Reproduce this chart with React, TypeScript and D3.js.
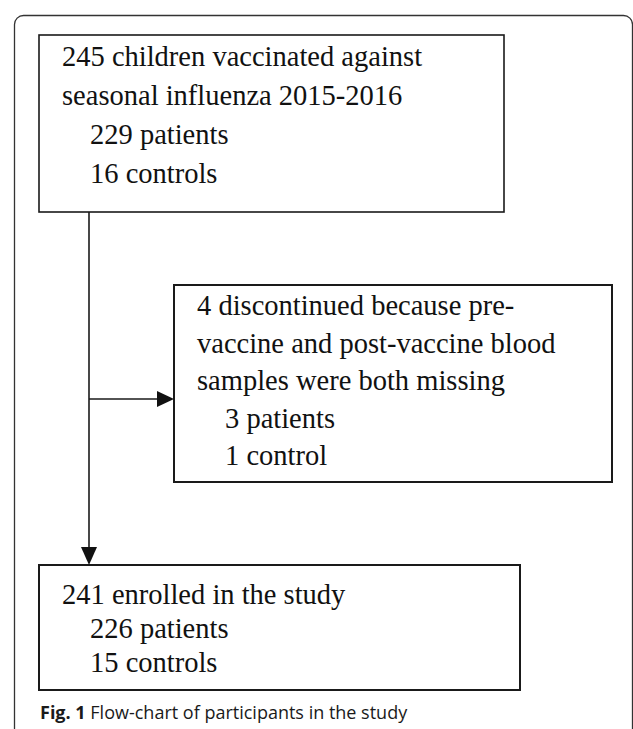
import React from 'react';
import * as d3 from 'd3';

const svgWidth = 633;
const svgHeight = 729;

// box contents: [text, indent level]
const topLines = [
  ['245 children vaccinated against', 0],
  ['seasonal influenza 2015-2016', 0],
  ['229 patients', 1],
  ['16 controls', 1],
];
const sideLines = [
  ['4 discontinued because pre-', 0],
  ['vaccine and post-vaccine blood', 0],
  ['samples were both missing', 0],
  ['3 patients', 1],
  ['1 control', 1],
];
const bottomLines = [
  ['241 enrolled in the study', 0],
  ['226 patients', 1],
  ['15 controls', 1],
];
const captionBold = 'Fig. 1';
const captionText = ' Flow-chart of participants in the study';

const boxes = [
  { id: 'top', x0: 39, y0: 35, x1: 504, y1: 212, lines: topLines, sw: 1.6, first: 31, lh: 39 },
  { id: 'side', x0: 174, y0: 285, x1: 612, y1: 482, lines: sideLines, sw: 2, first: 30, lh: 37.5 },
  { id: 'bottom', x0: 39, y0: 565, x1: 520, y1: 690, lines: bottomLines, sw: 2, first: 39, lh: 34 },
];

const trunkX = 89;
const branchY = 399;

const arrowHead = (tipX: number, tipY: number, dir: 'right' | 'down') => {
  const p = d3.path();
  if (dir === 'right') {
    p.moveTo(tipX, tipY);
    p.lineTo(tipX - 17, tipY - 8);
    p.lineTo(tipX - 17, tipY + 8);
  } else {
    p.moveTo(tipX, tipY);
    p.lineTo(tipX - 8, tipY - 18);
    p.lineTo(tipX + 8, tipY - 18);
  }
  p.closePath();
  return p.toString();
};

const App = () => {
  const line = d3.line();
  const trunk = line([[trunkX, boxes[0].y1], [trunkX, boxes[2].y0 - 16]]);
  const branch = line([[trunkX, branchY], [boxes[1].x0 - 16, branchY]]);

  return (
    <div style={{ position: 'absolute', left: 0, top: 0 }}>
      <svg width={svgWidth} height={svgHeight} style={{ display: 'block', background: '#fff' }}>
        <rect x={14.5} y={15.5} width={632 - 14} height={740} rx={9} ry={9}
          fill="none" stroke="#333" strokeWidth={1.3} />
        {boxes.map(b => (
          <g key={b.id}>
            <rect x={b.x0} y={b.y0} width={b.x1 - b.x0} height={b.y1 - b.y0}
              fill="#fff" stroke="#1a1a1a" strokeWidth={b.sw} />
            {b.lines.map((l, i) => (
              <text key={i} x={b.x0 + (l[1] ? 51 : 23)} y={b.y0 + b.first + i * b.lh}
                fontFamily="'Liberation Serif', 'Times New Roman', serif" fontSize={28.5}
                fill="#111">{l[0]}</text>
            ))}
          </g>
        ))}
        <path d={trunk || ''} stroke="#1a1a1a" strokeWidth={1.6} fill="none" />
        <path d={branch || ''} stroke="#1a1a1a" strokeWidth={1.6} fill="none" />
        <path d={arrowHead(boxes[1].x0, branchY, 'right')} fill="#111" />
        <path d={arrowHead(trunkX, boxes[2].y0, 'down')} fill="#111" />
        <text x={40} y={719} fontFamily="'Open Sans', 'Noto Sans', sans-serif" fontSize={18} fill="#1a1a1a">
          <tspan fontWeight="bold">{captionBold}</tspan>
          <tspan>{captionText}</tspan>
        </text>
      </svg>
    </div>
  );
};

export default App;
